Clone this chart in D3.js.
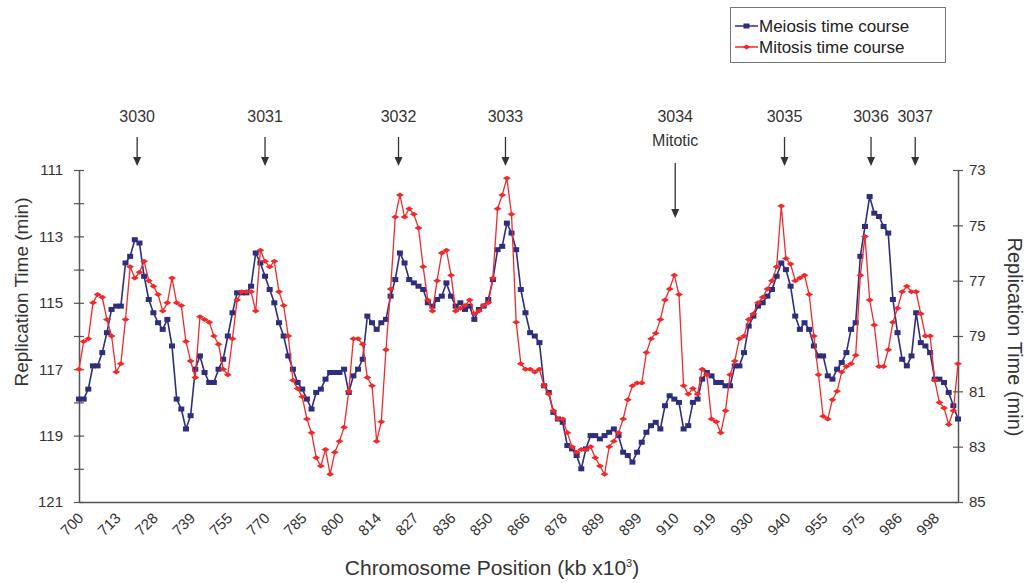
<!DOCTYPE html>
<html>
<head>
<meta charset="utf-8">
<script src="https://cdn.jsdelivr.net/npm/d3@7"></script>
<style>
  html, body { margin: 0; padding: 0; background: #fff; }
  svg { display: block; font-family: "Liberation Sans", Arial, sans-serif; }
</style>
</head>
<body>
<svg id="chart" width="1030" height="583"></svg>
<script>
// === 1. data ==========================================
// x categories: every 8th chromosome position is labelled
const xLabels = ['700','713','728','739','755','770','785','800','814','827','836','850',
                 '866','878','889','899','910','919','930','940','955','975','986','998'];
const labelStep = 8;

// meiosis replication time (min, left axis)
const meiosis = [
  117.9, 117.9, 117.6, 116.9, 116.9, 116.5, 115.9, 115.2, 115.1, 115.1,
  113.8, 113.6, 113.1, 113.2, 114.2, 114.9, 115.3, 115.6, 115.8, 115.5,
  116.3, 117.9, 118.2, 118.8, 118.4, 117.0, 116.6, 117.1, 117.4, 117.4,
  117.0, 116.7, 116.0, 115.3, 114.7, 114.7, 114.7, 114.5, 113.5, 113.8,
  114.2, 114.6, 115.0, 115.6, 116.0, 116.6, 117.0, 117.4, 117.6, 117.9,
  118.2, 117.7, 117.6, 117.3, 117.1, 117.1, 117.1, 117.0, 117.7, 117.2,
  117.0, 116.7, 115.4, 115.6, 115.8, 115.6, 115.5, 114.8, 114.3, 113.5,
  113.8, 114.3, 114.4, 114.5, 114.6, 115.0, 115.1, 114.9, 114.8, 114.4,
  114.8, 115.1, 115.0, 115.2, 115.1, 115.5, 115.2, 115.1, 114.9, 114.3,
  113.4, 113.3, 112.6, 112.9, 113.4, 114.6, 115.3, 115.9, 116.0, 116.2,
  117.5, 117.7, 118.3, 118.5, 118.6, 119.3, 119.4, 119.6, 120.0, 119.4,
  119.0, 119.0, 119.1, 119.0, 118.9, 118.8, 119.0, 119.5, 119.6, 119.8,
  119.5, 119.2, 118.9, 118.7, 118.6, 118.8, 118.1, 117.8, 117.9, 118.0,
  118.8, 118.7, 118.0, 117.9, 117.3, 117.1, 117.2, 117.4, 117.4, 117.5,
  117.5, 116.9, 116.9, 116.5, 115.7, 115.4, 115.1, 115.0, 114.8, 114.6,
  114.2, 113.8, 114.0, 114.5, 115.4, 115.8, 115.6, 115.8, 116.3, 116.6,
  116.6, 117.2, 117.3, 117.0, 116.8, 116.5, 115.8, 115.6, 113.6, 112.7,
  111.8, 112.3, 112.4, 112.7, 112.9, 114.9, 115.9, 116.7, 116.9, 116.6,
  115.3, 116.2, 116.3, 116.5, 117.3, 117.3, 117.4, 117.7, 118.1, 118.5
];

// mitosis replication time (min, right axis)
const mitosis = [
  80.2, 79.2, 79.1, 77.8, 77.5, 77.6, 78.4, 79.0, 80.3, 80.0,
  78.4, 76.5, 76.9, 76.7, 76.3, 77.0, 77.2, 77.5, 78.1, 77.8,
  76.9, 77.8, 77.9, 79.2, 79.9, 80.5, 78.3, 78.4, 78.5, 79.0,
  79.3, 80.2, 80.4, 79.1, 77.7, 77.4, 77.4, 77.4, 78.1, 75.9,
  76.3, 76.5, 76.3, 77.4, 77.9, 79.0, 80.6, 80.9, 81.2, 82.0,
  82.5, 83.4, 83.7, 83.1, 84.0, 83.2, 82.8, 82.3, 81.0, 79.1,
  79.1, 79.3, 80.5, 80.8, 82.8, 82.1, 79.5, 77.3, 74.7, 73.9,
  74.7, 74.4, 74.6, 75.1, 76.5, 77.7, 78.1, 77.0, 76.0, 75.9,
  76.8, 78.1, 78.0, 77.9, 77.7, 78.2, 78.1, 77.9, 77.8, 76.9,
  74.4, 73.9, 73.3, 74.6, 78.5, 80.0, 80.2, 80.2, 80.3, 80.2,
  80.8, 81.1, 81.7, 82.0, 82.0, 82.5, 83.0, 83.2, 83.1, 83.1,
  83.0, 83.4, 83.7, 84.0, 83.0, 82.8, 82.5, 82.0, 81.3, 80.8,
  80.7, 80.7, 79.6, 79.1, 78.9, 78.4, 77.7, 77.3, 76.8, 77.5,
  80.8, 81.1, 80.9, 81.1, 80.2, 80.4, 82.0, 82.1, 82.5, 81.7,
  80.4, 79.9, 79.1, 79.0, 78.4, 78.2, 77.8, 77.6, 77.3, 77.0,
  76.5, 74.3, 76.2, 76.4, 77.0, 76.9, 76.8, 77.5, 79.0, 80.4,
  81.9, 82.0, 81.3, 81.0, 80.3, 80.1, 80.0, 79.7, 76.8, 75.4,
  77.7, 78.6, 80.1, 80.1, 79.5, 78.5, 78.0, 77.4, 77.2, 77.4,
  77.4, 78.2, 79.0, 79.0, 80.6, 81.4, 81.6, 82.2, 81.7, 80.0
];

// origin annotations (position in category units)
const strains     = ['3030','3031','3032','3033','3034','3035','3036','3037'];
const strainPos   = [12.5, 40, 68.7, 91.7, 128.2, 151.7, 170.3, 179.8];
const strainNotes = ['', '', '', '', 'Mitotic', '', '', ''];

const leftTicks  = [111, 112, 113, 114, 115, 116, 117, 118, 119, 120, 121];
const rightTicks = [73, 75, 77, 79, 81, 83, 85];

// === 2. scales ========================================
const svg  = d3.select('#chart');
const axisColor = '#555';
const textColor = '#333';
const blue = '#2e2e7c';
const red  = '#f02a2a';

const x  = d3.scaleLinear().domain([0, meiosis.length - 1]).range([79, 958]);
const yL = d3.scaleLinear().domain([111, 121]).range([170, 502]);
const yR = d3.scaleLinear().domain([73, 85]).range([170, 502]);

// === 3. axes ==========================================
const gL = svg.append('g')
  .attr('transform', 'translate(79,0)')
  .call(d3.axisLeft(yL).tickValues(leftTicks).tickSizeInner(5).tickSizeOuter(0).tickPadding(11)
    .tickFormat(d => (d - 111) % 2 === 0 ? d : ''));
gL.selectAll('.tick').append('line').attr('x2', 5);

const gR = svg.append('g')
  .attr('transform', 'translate(958,0)')
  .call(d3.axisRight(yR).tickValues(rightTicks).tickSizeInner(5).tickSizeOuter(0).tickPadding(6));
gR.selectAll('.tick').append('line').attr('x2', -5);

const gB = svg.append('g')
  .attr('transform', 'translate(0,502)')
  .call(d3.axisBottom(x)
    .tickValues(d3.range(0, xLabels.length * labelStep, labelStep))
    .tickSize(0).tickSizeOuter(0)
    .tickFormat((d, i) => xLabels[i]));
gB.selectAll('.tick text')
  .attr('x', 0).attr('y', 0).attr('dy', 0)
  .attr('transform', 'translate(5,17) rotate(-45)')
  .style('text-anchor', 'end');

[gL, gR, gB].forEach(g => {
  g.select('.domain').attr('stroke', axisColor).attr('stroke-width', 1.5);
  g.selectAll('.tick line').attr('stroke', axisColor).attr('stroke-width', 1.2);
  g.selectAll('.tick text').attr('fill', textColor).style('font-size', '15px')
    .style('font-family', '"Liberation Sans", Arial, sans-serif');
});

// axis titles
svg.append('text')
  .attr('transform', 'translate(28,292) rotate(-90)')
  .attr('text-anchor', 'middle')
  .attr('fill', textColor)
  .style('font-size', '19px')
  .text('Replication Time (min)');

svg.append('text')
  .attr('transform', 'translate(1008,337) rotate(90)')
  .attr('text-anchor', 'middle')
  .attr('fill', textColor)
  .style('font-size', '20px')
  .text('Replication Time (min)');

const xt = svg.append('text')
  .attr('x', 492).attr('y', 575)
  .attr('text-anchor', 'middle')
  .attr('fill', textColor)
  .style('font-size', '21px');
xt.append('tspan').text('Chromosome Position (kb x10');
xt.append('tspan').attr('dy', -8).style('font-size', '11px').text('3');
xt.append('tspan').attr('dy', 8).text(')');

// === 4. series ========================================
const lineL = d3.line().x((d, i) => x(i)).y(d => yL(d));
const lineR = d3.line().x((d, i) => x(i)).y(d => yR(d));

svg.append('path').datum(meiosis)
  .attr('fill', 'none').attr('stroke', blue).attr('stroke-width', 1.6)
  .attr('d', lineL);
svg.append('g').selectAll('rect').data(meiosis).join('rect')
  .attr('x', (d, i) => x(i) - 3).attr('y', d => yL(d) - 2.5)
  .attr('width', 6).attr('height', 5)
  .attr('fill', blue);

svg.append('path').datum(mitosis)
  .attr('fill', 'none').attr('stroke', red).attr('stroke-width', 1.3)
  .attr('d', lineR);
const diamond = 'M-4,0L0,-2.5L4,0L0,2.5Z';
svg.append('g').selectAll('path').data(mitosis).join('path')
  .attr('transform', (d, i) => `translate(${x(i)},${yR(d)})`)
  .attr('d', diamond)
  .attr('fill', red);

// === 5. origin arrows ===================================
const ann = svg.append('g').attr('fill', textColor).style('font-size', '16px');
strains.forEach((s, k) => {
  const ax = x(strainPos[k]);
  const long = strainNotes[k] !== '';
  ann.append('text').attr('x', ax).attr('y', 122).attr('text-anchor', 'middle').text(s);
  if (long) ann.append('text').attr('x', ax).attr('y', 146).attr('text-anchor', 'middle').text(strainNotes[k]);
  const y0 = long ? 163 : 137, y1 = long ? 218 : 166;
  ann.append('line')
    .attr('x1', ax).attr('x2', ax).attr('y1', y0).attr('y2', y1 - 6)
    .attr('stroke', '#333').attr('stroke-width', 1.3);
  ann.append('path')
    .attr('d', `M${ax - 4},${y1 - 9}L${ax + 4},${y1 - 9}L${ax},${y1}Z`)
    .attr('fill', '#333');
});

// === 6. legend ========================================
const lg = svg.append('g').attr('transform', 'translate(730,7)');
lg.append('rect').attr('x', 0.5).attr('y', 0.5).attr('width', 215).attr('height', 55)
  .attr('fill', '#fff').attr('stroke', '#777');
const items = [
  { name: 'Meiosis time course', color: blue, marker: 'square', y: 19 },
  { name: 'Mitosis time course', color: red,  marker: 'diamond', y: 40 }
];
items.forEach(it => {
  lg.append('line').attr('x1', 5).attr('x2', 28).attr('y1', it.y).attr('y2', it.y)
    .attr('stroke', it.color).attr('stroke-width', 1.5);
  if (it.marker === 'square') {
    lg.append('rect').attr('x', 13.5).attr('y', it.y - 2.5).attr('width', 6).attr('height', 5).attr('fill', it.color);
  } else {
    lg.append('path').attr('transform', `translate(16.5,${it.y})`).attr('d', diamond).attr('fill', it.color);
  }
  lg.append('text').attr('x', 29).attr('y', it.y + 6)
    .attr('fill', '#222').style('font-size', '17px').text(it.name);
});
</script>
</body>
</html>
